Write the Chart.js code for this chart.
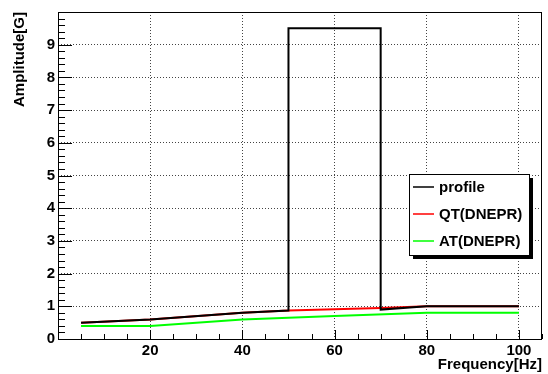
<!DOCTYPE html>
<html>
<head>
<meta charset="utf-8">
<script src="https://cdn.jsdelivr.net/npm/chart.js@4/dist/chart.umd.min.js"></script>
<style>
  html, body { margin: 0; padding: 0; background: #fff; }
  #c { display: block; }
</style>
</head>
<body>
<canvas id="c" width="548" height="374"></canvas>
<script>
// ---- data ----
const profileX = [5, 20, 40, 50, 50, 70, 70, 80, 100];
const profileY = [0.5, 0.6, 0.8, 0.87, 9.5, 9.5, 0.9, 1.0, 1.0];
const qtX = [5, 20, 40, 50, 70, 80, 100];
const qtY = [0.5, 0.6, 0.8, 0.87, 0.95, 1.0, 1.0];
const atX = [5, 20, 40, 60, 80, 100];
const atY = [0.4, 0.4, 0.6, 0.7, 0.8, 0.8];
const seriesLabels = ['profile', 'QT(DNEPR)', 'AT(DNEPR)'];
const xTickLabels = [20, 40, 60, 80, 100];
const yTickLabels = [0, 1, 2, 3, 4, 5, 6, 7, 8, 9];
const xMinorStep = 5, xMajorStep = 20;
const yMinorStep = 0.2, yMajorStep = 1;
const xTitle = 'Frequency[Hz]';
const yTitle = 'Amplitude[G]';

const FONT = "'Liberation Sans', Arial, Helvetica, sans-serif";
const pts = (xs, ys) => xs.map((x, i) => ({x: x, y: ys[i]}));

const framePlugin = {
  id: 'frame',
  afterDatasetsDraw(chart) {
    const ctx = chart.ctx, a = chart.chartArea;
    const xs = chart.scales.x, ys = chart.scales.y;
    ctx.save();
    ctx.strokeStyle = '#000';
    ctx.lineWidth = 1;
    ctx.setLineDash([]);
    // tick marks (inside the frame)
    ctx.beginPath();
    for (let v = xs.min; v <= xs.max + 1e-9; v += xMinorStep) {
      const px = Math.round(xs.getPixelForValue(v)) + 0.5;
      const major = Math.abs(v / xMajorStep - Math.round(v / xMajorStep)) < 1e-6;
      const len = major ? 9 : 5;
      ctx.moveTo(px, a.bottom);
      ctx.lineTo(px, a.bottom - len);
    }
    for (let k = 0; k * yMinorStep <= ys.max + 1e-9; k++) {
      const v = k * yMinorStep;
      const py = Math.round(ys.getPixelForValue(v)) + 0.5;
      const major = Math.abs(v / yMajorStep - Math.round(v / yMajorStep)) < 1e-6;
      const len = major ? 14 : 7;
      ctx.moveTo(a.left, py);
      ctx.lineTo(a.left + len, py);
    }
    ctx.stroke();
    // frame
    ctx.strokeRect(Math.round(a.left) + 0.5, Math.round(a.top) + 0.5,
                   Math.round(a.right - a.left) - 1, Math.round(a.bottom - a.top));
    ctx.restore();
  },
  afterDraw(chart) {
    // legend box with shadow
    const ctx = chart.ctx;
    const bx = 409, by = 174, bw = 120, bh = 81, sh = 4;
    ctx.save();
    ctx.fillStyle = '#000';
    ctx.fillRect(bx + sh, by + sh, bw, bh);
    ctx.fillStyle = '#fff';
    ctx.fillRect(bx, by, bw, bh);
    ctx.strokeStyle = '#000';
    ctx.lineWidth = 1;
    ctx.strokeRect(bx + 0.5, by + 0.5, bw, bh);
    ctx.font = 'bold 15px ' + FONT;
    ctx.textBaseline = 'middle';
    ctx.textAlign = 'left';
    const rows = [187, 214, 241];
    chart.data.datasets.forEach((ds, i) => {
      const y = rows[i];
      ctx.strokeStyle = ds.borderColor;
      ctx.lineWidth = 1.5;
      ctx.beginPath();
      ctx.moveTo(413, y);
      ctx.lineTo(434, y);
      ctx.stroke();
      ctx.fillStyle = '#000';
      ctx.fillText(ds.label, 439, y + 1);
    });
    ctx.restore();
  }
};

new Chart(document.getElementById('c'), {
  type: 'scatter',
  data: {
    datasets: [
      {label: seriesLabels[0], data: pts(profileX, profileY), borderColor: '#000000', showLine: true, borderWidth: 2, pointRadius: 0, tension: 0},
      {label: seriesLabels[1], data: pts(qtX, qtY), borderColor: '#ff0000', showLine: true, borderWidth: 2, pointRadius: 0, tension: 0},
      {label: seriesLabels[2], data: pts(atX, atY), borderColor: '#00ff00', showLine: true, borderWidth: 2, pointRadius: 0, tension: 0}
    ]
  },
  options: {
    responsive: false,
    animation: false,
    devicePixelRatio: 1,
    layout: {padding: {left: 0, top: 11, right: 6, bottom: 0}},
    plugins: {legend: {display: false}, tooltip: {enabled: false}},
    scales: {
      x: {
        type: 'linear', min: 0, max: 105,
        afterBuildTicks: s => { s.ticks = xTickLabels.map(v => ({value: v})); },
        afterFit: s => { s.height = 35; },
        grid: {drawTicks: false, color: '#444', lineWidth: 1},
        border: {display: false, dash: [1, 2]},
        ticks: {color: '#000', padding: 3, font: {family: FONT, size: 15, weight: 'bold'}, maxRotation: 0},
        title: {display: true, text: xTitle, align: 'end', color: '#000', padding: {top: 0, bottom: 0},
                font: {family: FONT, size: 15, weight: 'bold'}}
      },
      y: {
        type: 'linear', min: 0, max: 10,
        afterBuildTicks: s => { s.ticks = yTickLabels.map(v => ({value: v})); },
        afterFit: s => { s.width = 58; },
        grid: {drawTicks: false, color: '#444', lineWidth: 1},
        border: {display: false, dash: [1, 2]},
        ticks: {color: '#000', padding: 3, font: {family: FONT, size: 15, weight: 'bold'}},
        title: {display: true, text: yTitle, align: 'end', color: '#000', padding: {top: 11, bottom: 0},
                font: {family: FONT, size: 15, weight: 'bold'}}
      }
    }
  },
  plugins: [framePlugin]
});
</script>
</body>
</html>
